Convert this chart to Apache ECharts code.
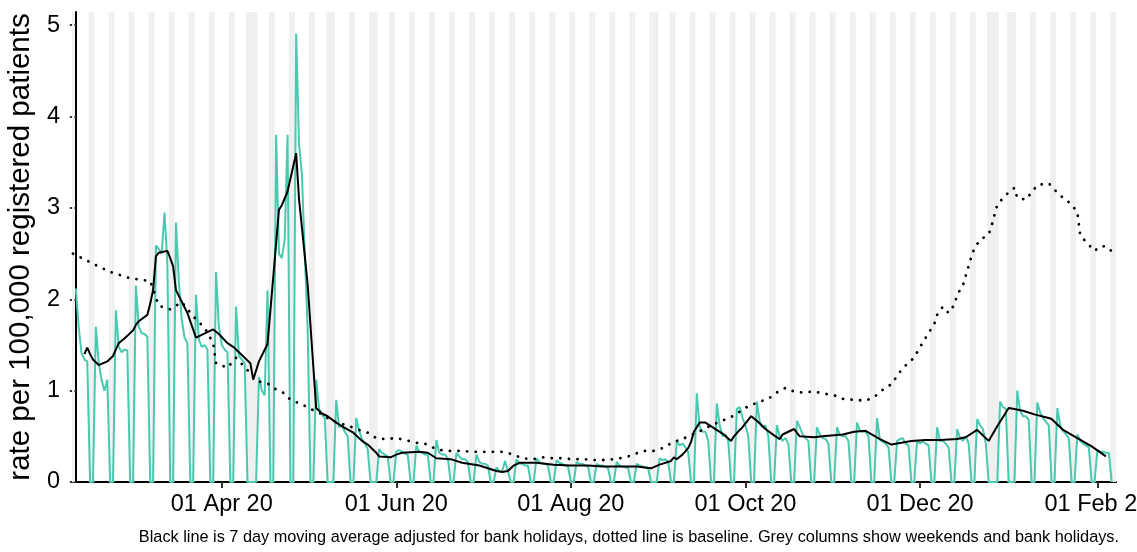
<!DOCTYPE html>
<html><head><meta charset="utf-8">
<script src="https://cdn.jsdelivr.net/npm/echarts@6/dist/echarts.min.js"></script>
<style>html,body{margin:0;padding:0;background:#fff}#c{width:1137px;height:552px}</style>
</head><body><div id="c"></div>
<script>
// ---- data ----
const startDate = '2020-02-10'; // day 0 (Monday)
// daily rate per 100,000 (Mon..Sun rows), day 0 = 10 Feb 2020
const dailyRate = [
2.12,1.70,1.41,1.34,1.32,0,0,
1.70,1.30,1.12,1.00,1.12,0,0,
1.88,1.48,1.42,1.45,1.44,0,0,
2.15,1.70,1.63,1.62,1.59,0,0,
2.59,2.55,2.50,2.95,2.40,0,0,
2.84,2.20,1.78,1.58,1.52,0,0,
2.05,1.56,1.48,1.50,1.45,0,0,
2.30,1.70,1.50,1.45,1.42,0,0,
1.92,1.38,1.34,1.30,0,0,0,
0,1.15,1.00,0.95,2.10,0,0,
3.80,2.50,2.45,2.65,3.80,0,0,
4.91,3.70,3.38,2.50,1.70,0,0,
1.12,0.80,0.74,0.70,0,0,0,
0.90,0.60,0.62,0.55,0.50,0,0,
0.70,0.56,0.47,0.42,0.36,0,0,
0,0.36,0.32,0.30,0.28,0,0,
0.33,0.35,0.33,0.31,0.30,0,0,
0.40,0.33,0.32,0.30,0.30,0,0,
0.46,0.32,0.30,0.30,0.26,0,0,
0.32,0.28,0.25,0.25,0.22,0,0,
0.30,0.22,0.20,0.20,0.18,0,0,
0.16,0.12,0.12,0.23,0.12,0,0,
0.25,0.20,0.20,0.18,0.18,0,0,
0.26,0.22,0.20,0.20,0.18,0,0,
0.24,0.21,0.20,0.18,0.17,0,0,
0.22,0.20,0.20,0.18,0.17,0,0,
0.20,0.18,0.18,0.17,0.15,0,0,
0.22,0.18,0.17,0.16,0.15,0,0,
0.20,0.18,0.17,0.16,0.15,0,0,
0,0.26,0.24,0.25,0.22,0,0,
0.45,0.40,0.42,0.38,0.33,0,0,
0.97,0.60,0.55,0.55,0.45,0,0,
0.86,0.62,0.50,0.52,0.45,0,0,
0.80,0.82,0.70,0.62,0.50,0,0,
0.88,0.66,0.60,0.62,0.50,0,0,
0.62,0.50,0.45,0.48,0.42,0,0,
0.67,0.60,0.52,0.48,0.45,0,0,
0.60,0.52,0.48,0.47,0.42,0,0,
0.60,0.52,0.50,0.50,0.45,0,0,
0.65,0.56,0.55,0.55,0.50,0,0,
0.70,0.46,0.44,0.42,0.38,0,0,
0.45,0.47,0.48,0.42,0.40,0,0,
0.46,0.42,0.45,0.42,0.40,0,0,
0.60,0.45,0.45,0.42,0.38,0,0,
0.58,0.48,0.45,0.50,0.42,0,0,
0.69,0.62,0.58,0.42,0,0,0,
0,0.88,0.82,0.80,0,0,0,
1.00,0.78,0.72,0.72,0.68,0,0,
0.87,0.76,0.70,0.66,0.62,0,0,
0.81,0.62,0.56,0.52,0.48,0,0,
0.52,0.45,0.42,0.40,0.38,0,0,
0.35,0.33,0.33,0.32,0.32,0
];
// 7 day moving average (day offset, value)
const maDays = [3,4,5,6,8,11,13,15,17,20,21,22,25,26,27,28,29,32,33,34,35,39,42,44,48,50,53,55,56,59,61,62,64,67,71,72,74,77,78,81,84,86,88,91,93,97,100,102,105,106,110,112,114,120,123,126,131,135,141,144,147,149,151,153,155,161,167,173,179,184,190,196,201,204,208,209,210,212,214,215,216,218,220,223,226,229,230,232,233,236,238,241,244,246,247,251,253,258,261,268,272,276,281,285,292,297,302,308,311,315,319,322,326,328,331,335,340,341,345,350,355,360];
const maValues = [1.40,1.47,1.40,1.34,1.28,1.32,1.38,1.52,1.57,1.66,1.72,1.76,1.83,1.95,2.10,2.47,2.51,2.53,2.45,2.36,2.10,1.85,1.58,1.61,1.67,1.62,1.52,1.48,1.45,1.36,1.30,1.12,1.32,1.51,2.98,3.03,3.18,3.60,3.10,2.17,0.81,0.75,0.72,0.65,0.61,0.54,0.45,0.41,0.32,0.28,0.27,0.30,0.32,0.33,0.32,0.26,0.25,0.21,0.18,0.15,0.12,0.11,0.12,0.18,0.21,0.21,0.19,0.18,0.18,0.17,0.17,0.17,0.15,0.19,0.23,0.27,0.25,0.30,0.37,0.44,0.55,0.65,0.65,0.59,0.53,0.45,0.50,0.57,0.60,0.72,0.67,0.58,0.51,0.47,0.52,0.58,0.50,0.49,0.50,0.52,0.55,0.56,0.47,0.41,0.45,0.46,0.46,0.47,0.49,0.57,0.45,0.61,0.81,0.80,0.78,0.74,0.70,0.69,0.57,0.48,0.39,0.28];
// baseline (day offset, value)
const baselineDays = [-1,6,12,19,26,29,33,37,42,45,48,49,53,56,61,64,67,69,73,75,79,82,85,88,92,95,98,102,105,108,112,115,119,122,126,129,132,135,139,142,146,149,153,156,160,163,167,170,174,177,181,184,188,192,195,198,202,205,209,212,219,222,225,229,232,235,239,242,245,248,251,254,258,261,265,268,272,276,279,282,285,287,289,292,294,296,298,300,301,303,305,307,308,310,311,312,313,314,316,319,320,321,322,324,326,328,329,332,334,336,340,342,345,348,350,351,353,356,358,360,363];
const baselineValues = [2.50,2.39,2.30,2.23,2.20,1.93,1.89,1.97,1.78,1.69,1.52,1.30,1.25,1.36,1.19,1.10,1.08,1.03,0.97,0.90,0.85,0.80,0.76,0.70,0.64,0.62,0.58,0.54,0.48,0.47,0.48,0.46,0.43,0.42,0.36,0.34,0.34,0.34,0.33,0.33,0.33,0.33,0.30,0.26,0.25,0.27,0.26,0.26,0.25,0.25,0.24,0.24,0.25,0.27,0.30,0.34,0.34,0.37,0.44,0.47,0.57,0.62,0.66,0.71,0.77,0.83,0.88,0.91,0.98,1.03,0.99,0.98,0.99,0.97,0.95,0.91,0.90,0.89,0.93,1.01,1.07,1.16,1.25,1.33,1.42,1.53,1.63,1.73,1.83,1.92,1.85,1.94,2.05,2.15,2.26,2.36,2.47,2.56,2.65,2.71,2.80,2.92,3.03,3.11,3.17,3.22,3.11,3.09,3.17,3.25,3.27,3.20,3.11,3.04,2.95,2.70,2.63,2.53,2.58,2.58,2.50];
const bankHolidays = ['2020-04-10','2020-04-13','2020-05-08','2020-05-25','2020-08-31','2020-12-25','2020-12-28','2021-01-01'];
const tickDates = ['2020-04-01','2020-06-01','2020-08-01','2020-10-01','2020-12-01','2021-02-01'];
const tickLabels = ['01 Apr 20','01 Jun 20','01 Aug 20','01 Oct 20','01 Dec 20','01 Feb 21'];
const yTicks = [0,1,2,3,4,5];
const yTitle = 'rate per 100,000 registered patients';
const caption = 'Black line is 7 day moving average adjusted for bank holidays, dotted line is baseline. Grey columns show weekends and bank holidays.';

// ---- helpers ----
const DAY = 86400000;
const t0 = Date.parse(startDate + 'T00:00:00Z');
const dayOf = s => Math.round((Date.parse(s + 'T00:00:00Z') - t0) / DAY);
const xMin = -1.33, xMax = 363.5;
const holidaySet = new Set(bankHolidays.map(dayOf));
const greyDays = [];
for (let d = Math.floor(xMin) - 1; d <= Math.ceil(xMax) + 1; d++) {
  const dow = new Date(t0 + d * DAY).getUTCDay();
  if (dow === 0 || dow === 6 || holidaySet.has(d)) greyDays.push([d]);
}
const tickDays = tickDates.map(dayOf);
const labelMap = {}; tickDays.forEach((d, i) => labelMap[d] = tickLabels[i]);

const FONT = '"Liberation Sans", Arial, sans-serif';
const chart = echarts.init(document.getElementById('c'), null, {renderer: 'canvas'});
chart.setOption({
  animation: false,
  backgroundColor: '#ffffff',
  grid: {left: 72, right: 21, top: 12, bottom: 70, containLabel: false, outerBoundsMode: 'none'},
  xAxis: {
    type: 'value', min: xMin, max: xMax,
    splitLine: {show: false},
    axisLine: {show: true, onZero: false, lineStyle: {color: '#000', width: 2}},
    axisTick: {show: true, customValues: tickDays, length: 6, lineStyle: {color: '#333', width: 2}},
    axisLabel: {customValues: tickDays, formatter: v => labelMap[Math.round(v)] || '', fontSize: 23.5, color: '#000', fontFamily: FONT, margin: 11, hideOverlap: false}
  },
  yAxis: {
    type: 'value', min: 0, max: 5.145,
    splitLine: {show: false},
    axisLine: {show: true, lineStyle: {color: '#000', width: 2}},
    axisTick: {show: true, customValues: yTicks, length: 6, lineStyle: {color: '#333', width: 2}},
    axisLabel: {customValues: yTicks, fontSize: 23.5, color: '#000', fontFamily: FONT, margin: 12},
    name: yTitle, nameLocation: 'middle', nameGap: 36,
    nameTextStyle: {fontSize: 29.5, color: '#000', fontFamily: FONT}
  },
  graphic: [{
    type: 'text', right: 18, top: 530,
    style: {text: caption, font: '16.3px ' + FONT, fill: '#000'}
  }],
  series: [
    {
      type: 'custom', data: greyDays, clip: true, silent: true, z: 1,
      encode: {x: 0},
      renderItem: (params, api) => {
        const d = api.value(0);
        const p0 = api.coord([d - 0.5, 0]);
        const p1 = api.coord([d + 0.5, 0]);
        const cs = params.coordSys;
        return {type: 'rect', shape: {x: p0[0], y: cs.y, width: p1[0] - p0[0], height: cs.height}, style: {fill: '#efefef'}};
      }
    },
    {
      type: 'line', z: 2, showSymbol: false, silent: true,
      data: dailyRate.map((v, i) => [i, v]),
      lineStyle: {color: '#48C9B0', width: 2}
    },
    {
      type: 'line', z: 3, showSymbol: false, silent: true,
      data: baselineDays.map((d, i) => [d, baselineValues[i]]),
      lineStyle: {color: '#000', width: 2.8, type: [0.1, 8.5], cap: 'round'}
    },
    {
      type: 'line', z: 4, showSymbol: false, silent: true,
      data: maDays.map((d, i) => [d, maValues[i]]),
      lineStyle: {color: '#000', width: 2}
    }
  ]
});
</script>
</body></html>
